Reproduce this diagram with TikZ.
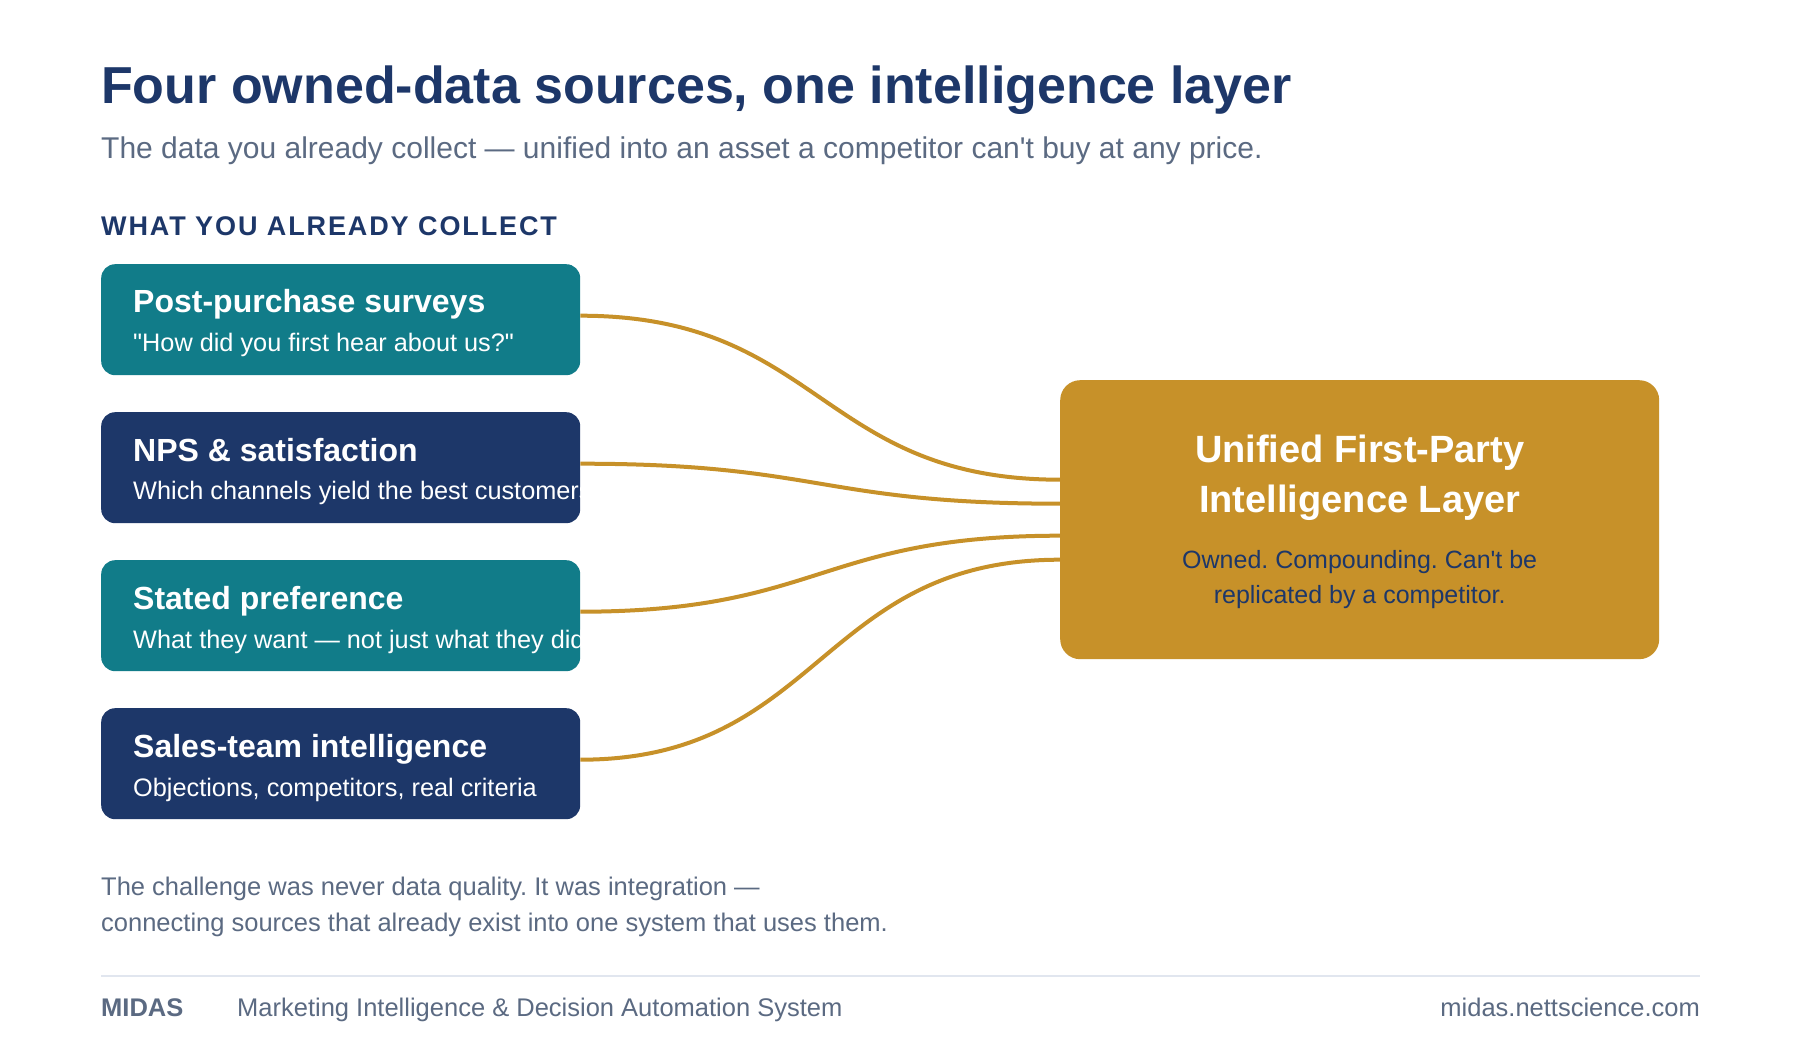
\documentclass[tikz,border=0pt]{standalone}
\usepackage{fontspec}
\setmainfont{Liberation Sans}[Ligatures=TeXOff]
\usepackage{xcolor}
\usetikzlibrary{calc}
\frenchspacing

\definecolor{navy}{HTML}{1D3769}
\definecolor{srcteal}{HTML}{117C89}
\definecolor{gold}{HTML}{C79129}
\definecolor{slate}{HTML}{5B6A82}
\definecolor{rulegrey}{HTML}{E1E6EF}

\newcommand{\px}[1]{\fontsize{#1pt}{#1pt}\selectfont}

\tikzset{
    txt/.style={inner sep=0pt, anchor=base west},
    source/.style={rounded corners=14pt, minimum width=479pt, minimum height=111pt,
        inner sep=0pt, anchor=north west},
    link/.style={draw=gold, line width=4pt},
}

\begin{document}
\begin{tikzpicture}[x=1pt,y=-1pt]
    \fill[white] (0,0) rectangle (1800,1040);
    \useasboundingbox (0,0) rectangle (1800,1040);

    %% heading
    \node[txt, navy, font=\px{52}\bfseries] (title) at (101,104) {Four owned-data sources, one intelligence layer};
    \node[txt, slate, font=\px{30}] (subtitle) at (101,159) {The data you already collect — unified into an asset a competitor can't buy at any price.};
    \node[txt, navy, font=\px{27}\bfseries\addfontfeature{LetterSpace=7}] (collect) at (101,236) {WHAT YOU ALREADY COLLECT};

    %% the hub
    \node[fill=gold, rounded corners=20pt, minimum width=599pt, minimum height=279pt,
        inner sep=0pt, anchor=north west] (hub) at (1060,380) {};
    \node[anchor=base, inner sep=0pt, white, font=\px{38}\bfseries] (hubt1) at ($(hub.north)+(0,83)$) {Unified First-Party};
    \node[anchor=base, inner sep=0pt, white, font=\px{38}\bfseries] (hubt2) at ($(hub.north)+(0,132)$) {Intelligence Layer};
    \node[anchor=base, inner sep=0pt, navy, font=\px{25}] (hubd1) at ($(hub.north)+(0,188)$) {Owned. Compounding. Can't be};
    \node[anchor=base, inner sep=0pt, navy, font=\px{25}] (hubd2) at ($(hub.north)+(0,223)$) {replicated by a competitor.};

    %% the four sources
    \foreach \i/\col/\head/\desc in {
        1/srcteal/{Post-purchase surveys}/{"How did you first hear about us?"},
        2/navy/{NPS \& satisfaction}/{Which channels yield the best customers},
        3/srcteal/{Stated preference}/{What they want — not just what they did},
        4/navy/{Sales-team intelligence}/{Objections, competitors, real criteria}} {
        \node[source, fill=\col] (s\i) at (101,{264+148*(\i-1)}) {};
        \begin{scope}
            \clip[rounded corners=14pt] (s\i.north west) rectangle (s\i.south east);
            \node[txt, white, font=\px{32}\bfseries] (s\i h) at ($(s\i.north west)+(32,49)$) {\head};
            \node[txt, white, font=\px{25.3}] (s\i d) at ($(s\i.north west)+(32,88)$) {\desc};
        \end{scope}
    }

    %% links into the hub
    \foreach \i/\dy in {1/-40,2/-16,3/16,4/40}
        \draw[link] ($(s\i.east)+(0,-4)$) .. controls +(240,0) and +(-240,0) .. ($(hub.west)+(0,\dy)$);

    %% closing remark
    \node[txt, slate, font=\px{25.5}] (note1) at (101,895) {The challenge was never data quality. It was integration —};
    \node[txt, slate, font=\px{25.5}] (note2) at (101,931) {connecting sources that already exist into one system that uses them.};

    %% footer
    \draw[rulegrey, line width=2pt] (101,976) -- (1700,976);
    \node[txt, slate, font=\px{25.5}\bfseries] (brand) at (101,1016) {MIDAS};
    \node[txt, slate, font=\px{25.5}] (tagline) at (237,1016) {Marketing Intelligence \& Decision Automation System};
    \node[inner sep=0pt, anchor=base east, slate, font=\px{25.5}] (site) at (1700,1016) {midas.nettscience.com};
\end{tikzpicture}
\end{document}
